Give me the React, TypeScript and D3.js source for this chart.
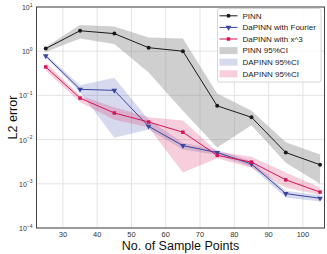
import React from 'react';
import * as d3 from 'd3';

// sample counts on the x axis
const samplePoints = [25, 35, 45, 55, 65, 75, 85, 95, 105];

// L2 error, mean and 95% CI per method
const pinnMean = [1.15, 2.9, 2.5, 1.2, 1.0, 0.058, 0.032, 0.0051, 0.0027];
const pinnLow = [0.96, 1.95, 1.45, 0.33, 0.045, 0.0066, 0.021, 0.003, 0.001];
const pinnHigh = [1.25, 3.9, 3.6, 2.05, 1.95, 0.11, 0.045, 0.0087, 0.0046];

const fourierMean = [0.78, 0.137, 0.13, 0.02, 0.0073, 0.0051, 0.0028, 0.0006, 0.00047];
const fourierLow = [0.72, 0.12, 0.011, 0.017, 0.006, 0.0045, 0.0024, 0.00049, 0.0004];
const fourierHigh = [0.85, 0.17, 0.25, 0.028, 0.0085, 0.0058, 0.0033, 0.0007, 0.00055];

const cubeMean = [0.44, 0.087, 0.04, 0.025, 0.0147, 0.0044, 0.0031, 0.00123, 0.00065];
const cubeLow = [0.36, 0.07, 0.028, 0.019, 0.0018, 0.0038, 0.0023, 0.00083, 0.00056];
const cubeHigh = [0.55, 0.1, 0.054, 0.032, 0.027, 0.0053, 0.0041, 0.0018, 0.00083];

const xTicks = [30, 40, 50, 60, 70, 80, 90, 100];
const yExponents = [1, 0, -1, -2, -3, -4];

const legendLabels = [
    'PINN',
    'DaPINN with Fourier',
    'DaPINN with x^3',
    'PINN 95%CI',
    'DAPINN 95%CI',
    'DAPINN 95%CI',
];

const W = 327;
const H = 254;
const margin = { top: 7, right: 2.5, bottom: 26, left: 36.5 };
const font = '"Liberation Sans", Arial, sans-serif';

const colors = {
    pinn: '#1a1a1a',
    fourier: '#3a45a0',
    cube: '#d4145a',
};

export default function App() {
    const x = d3.scaleLinear()
        .domain([22.3, 106.3])
        .range([margin.left, W - margin.right]);
    const y = d3.scaleLog()
        .domain([1e-4, 10])
        .range([H - margin.bottom, margin.top]);

    const line = d3.line<number>()
        .x((_, i) => x(samplePoints[i]))
        .y(d => y(d));

    const band = (lo: number[], hi: number[]) =>
        d3.area<number>()
            .x(d => x(d))
            .y0((_, i) => y(lo[i]))
            .y1((_, i) => y(hi[i]))(samplePoints) || '';

    const triangle = d3.symbol(d3.symbolTriangle, 14)() || '';
    const square = d3.symbol(d3.symbolSquare, 12)() || '';

    const left = margin.left;
    const right = W - margin.right;
    const top = margin.top;
    const bottom = H - margin.bottom;

    const legendX = 217.5;
    const legendY = 8.5;
    const rowH = 11.6;

    return (
        <svg width={W} height={H} style={{ position: 'absolute', left: 0, top: 0 }} fontFamily={font}>
            <rect x={0} y={0} width={W} height={H} fill="#fff" />

            {/* grid */}
            {xTicks.map(t => (
                <line key={'gx' + t} x1={x(t)} x2={x(t)} y1={top} y2={bottom} stroke="#e3e3e3" strokeWidth={1} />
            ))}
            {yExponents.map(e => (
                <line key={'gy' + e} x1={left} x2={right} y1={y(Math.pow(10, e))} y2={y(Math.pow(10, e))} stroke="#e3e3e3" strokeWidth={1} />
            ))}

            {/* confidence bands */}
            <path d={band(pinnLow, pinnHigh)} fill="#8c8c8c" fillOpacity={0.42} />
            <path d={band(fourierLow, fourierHigh)} fill="#4a55b0" fillOpacity={0.22} />
            <path d={band(cubeLow, cubeHigh)} fill="#dc1e5a" fillOpacity={0.22} />

            {/* lines */}
            <path d={line(pinnMean) || ''} fill="none" stroke={colors.pinn} strokeWidth={1} />
            <path d={line(fourierMean) || ''} fill="none" stroke={colors.fourier} strokeWidth={1} />
            <path d={line(cubeMean) || ''} fill="none" stroke={colors.cube} strokeWidth={1} />

            {pinnMean.map((v, i) => (
                <circle key={'p' + i} cx={x(samplePoints[i])} cy={y(v)} r={2} fill={colors.pinn} />
            ))}
            {fourierMean.map((v, i) => (
                <path key={'f' + i} d={triangle} fill={colors.fourier}
                    transform={`translate(${x(samplePoints[i])},${y(v)}) rotate(180)`} />
            ))}
            {cubeMean.map((v, i) => (
                <path key={'c' + i} d={square} fill={colors.cube}
                    transform={`translate(${x(samplePoints[i])},${y(v)})`} />
            ))}

            {/* frame */}
            <rect x={left} y={top} width={right - left} height={bottom - top} fill="none" stroke="#444" strokeWidth={1} />

            {/* x ticks */}
            {xTicks.map(t => (
                <text key={'tx' + t} x={x(t)} y={bottom + 8.5} fontSize={7.5} fill="#333" textAnchor="middle">{t}</text>
            ))}
            {/* y ticks */}
            {yExponents.map(e => (
                <text key={'ty' + e} x={left - 4} y={y(Math.pow(10, e)) + 3} fontSize={7} fill="#333" textAnchor="end">
                    10<tspan dy={-3.5} fontSize={5}>{e < 0 ? '\u2212' + (-e) : e}</tspan>
                </text>
            ))}

            <text x={(left + right) / 2} y={H - 4.5} fontSize={12.5} fill="#111" textAnchor="middle">No. of Sample Points</text>
            <text transform={`translate(16.5,${(top + bottom) / 2}) rotate(-90)`} fontSize={12.5} fill="#111" textAnchor="middle">L2 error</text>

            {/* legend */}
            <rect x={legendX} y={legendY} width={103.5} height={73.5} rx={2} fill="#fff" fillOpacity={0.85} stroke="#cccccc" strokeWidth={0.8} />
            {legendLabels.map((label, i) => {
                const cy = legendY + 7.3 + i * rowH;
                const hx0 = legendX + 2;
                const hx1 = legendX + 20;
                const mid = (hx0 + hx1) / 2;
                let handle: React.ReactNode = null;
                if (i === 0) {
                    handle = (<g>
                        <line x1={hx0} x2={hx1} y1={cy} y2={cy} stroke={colors.pinn} strokeWidth={1} />
                        <circle cx={mid} cy={cy} r={2} fill={colors.pinn} />
                    </g>);
                } else if (i === 1) {
                    handle = (<g>
                        <line x1={hx0} x2={hx1} y1={cy} y2={cy} stroke={colors.fourier} strokeWidth={1} />
                        <path d={triangle} fill={colors.fourier} transform={`translate(${mid},${cy}) rotate(180)`} />
                    </g>);
                } else if (i === 2) {
                    handle = (<g>
                        <line x1={hx0} x2={hx1} y1={cy} y2={cy} stroke={colors.cube} strokeWidth={1} />
                        <path d={square} fill={colors.cube} transform={`translate(${mid},${cy})`} />
                    </g>);
                } else {
                    const fills = [['#8c8c8c', 0.42], ['#4a55b0', 0.22], ['#dc1e5a', 0.22]];
                    const [c, o] = fills[i - 3];
                    handle = <rect x={hx0} y={cy - 3.5} width={hx1 - hx0} height={7} fill={c as string} fillOpacity={o as number} />;
                }
                return (
                    <g key={'lg' + i}>
                        {handle}
                        <text x={legendX + 25} y={cy + 2.8} fontSize={8} fill="#222">{label}</text>
                    </g>
                );
            })}
        </svg>
    );
}
